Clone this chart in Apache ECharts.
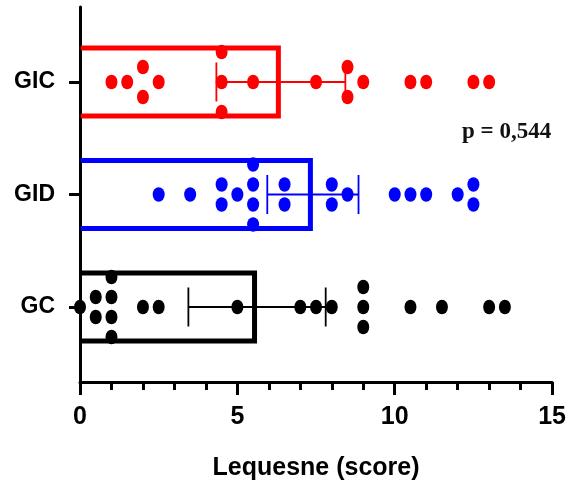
<!DOCTYPE html>
<html>
<head>
<meta charset="utf-8">
<script src="https://cdn.jsdelivr.net/npm/echarts@6/dist/echarts.min.js"></script>
<style>
html, body { margin: 0; padding: 0; background: #fff; }
#main { width: 569px; height: 495px; }
</style>
</head>
<body>
<div id="main"></div>
<script>
// groups, bottom to top
var groups = ['GC', 'GID', 'GIC'];
var colors = ['#000000', '#0000ff', '#ff0000'];

// individual Lequesne scores
var gcScores  = [0, 0.5, 0.5, 1, 1, 1, 1, 2, 2.5, 5, 7, 7.5, 8, 9, 9, 9, 10.5, 11.5, 13, 13.5];
var gidScores = [2.5, 3.5, 4.5, 4.5, 5, 5.5, 5.5, 5.5, 5.5, 6.5, 6.5, 8, 8, 8.5, 10, 10.5, 11, 12, 12.5, 12.5];
var gicScores = [1, 1.5, 2, 2, 2.5, 4.5, 4.5, 4.5, 5.5, 7.5, 8.5, 8.5, 9, 10.5, 11, 12.5, 13];
var allScores = [gcScores, gidScores, gicScores];

var xTicks = [0, 5, 10, 15];
var pText = 'p = 0,544';

// mean and 95% CI (t approx.)
function stats(arr) {
  var n = arr.length, m = 0, v = 0;
  arr.forEach(function (d) { m += d; });
  m /= n;
  arr.forEach(function (d) { v += (d - m) * (d - m); });
  var sd = Math.sqrt(v / (n - 1));
  var df = n - 1, z = 1.959964;
  var t = z + (Math.pow(z, 3) + z) / (4 * df) +
    (5 * Math.pow(z, 5) + 16 * Math.pow(z, 3) + 3 * z) / (96 * df * df);
  return { mean: m, ci: t * sd / Math.sqrt(n) };
}

var rowPos = groups.map(function (g, i) { return 2 + 3 * i; });

// simple beeswarm: equal values spread vertically
function swarm(arr, y) {
  var counts = {}, maxN = 1;
  arr.forEach(function (d) { counts[d] = (counts[d] || 0) + 1; maxN = Math.max(maxN, counts[d]); });
  var step = maxN > 1 ? 1.6 / (maxN - 1) : 0;
  var seen = {};
  return arr.map(function (d) {
    var n = counts[d], k = seen[d] = (seen[d] || 0);
    seen[d]++;
    return [d, y + (k - (n - 1) / 2) * step];
  });
}

var series = [];
allScores.forEach(function (arr, i) {
  var s = stats(arr);
  var col = colors[i];
  series.push({
    type: 'custom', z: 2,
    data: [[s.mean, rowPos[i]]],
    renderItem: function (params, api) {
      var y = api.value(1);
      var x0 = api.coord([0, y]);
      var p = api.coord([api.value(0), y]);
      var h = api.size([0, 1.95])[1];
      var lw = 5;
      var top = p[1] - h / 2 + lw / 2, bot = p[1] + h / 2 - lw / 2, xr = p[0] - lw / 2;
      return {
        type: 'polyline',
        shape: { points: [[x0[0] + 1, top], [xr, top], [xr, bot], [x0[0] + 1, bot]] },
        style: { stroke: col, lineWidth: lw, fill: 'none', lineJoin: 'miter' }
      };
    }
  });
  series.push({
    type: 'custom', z: 3,
    data: [[s.mean - s.ci, s.mean + s.ci, rowPos[i]]],
    encode: { x: [0, 1], y: 2 },
    renderItem: function (params, api) {
      var y = api.value(2);
      var a = api.coord([api.value(0), y]);
      var b = api.coord([api.value(1), y]);
      var ch = api.size([0, 1.04])[1] / 2;
      var st = { stroke: col, lineWidth: 1.8 };
      return {
        type: 'group',
        children: [
          { type: 'line', shape: { x1: a[0], y1: a[1], x2: b[0], y2: b[1] }, style: st },
          { type: 'line', shape: { x1: a[0], y1: a[1] - ch, x2: a[0], y2: a[1] + ch }, style: st },
          { type: 'line', shape: { x1: b[0], y1: b[1] - ch, x2: b[0], y2: b[1] + ch }, style: st }
        ]
      };
    }
  });
  series.push({
    type: 'scatter', z: 4,
    symbol: 'circle',
    symbolSize: [12, 14.5],
    itemStyle: { color: col, opacity: 1 },
    data: swarm(arr, rowPos[i])
  });
});

var chart = echarts.init(document.getElementById('main'));
chart.setOption({
  animation: false,
  grid: { left: 80, right: 16, top: 7, bottom: 113 },
  xAxis: {
    type: 'value',
    min: xTicks[0], max: xTicks[xTicks.length - 1], interval: xTicks[1] - xTicks[0],
    name: 'Lequesne (score)',
    nameLocation: 'middle',
    nameGap: 74,
    nameTextStyle: { color: '#000', fontSize: 25, fontWeight: 'bold', fontFamily: 'Liberation Sans, Arial, sans-serif' },
    axisLine: { lineStyle: { color: '#000', width: 3 } },
    axisTick: { length: 13, lineStyle: { color: '#000', width: 3 } },
    minorTick: { show: true, splitNumber: 5, length: 8, lineStyle: { color: '#000', width: 3 } },
    axisLabel: { color: '#000', fontSize: 25, fontWeight: 'bold', margin: 23, fontFamily: 'Liberation Sans, Arial, sans-serif' },
    splitLine: { show: false },
    minorSplitLine: { show: false }
  },
  yAxis: {
    type: 'value',
    min: 0, max: 10,
    axisLine: { show: true, onZero: false, lineStyle: { color: '#000', width: 3 } },
    axisTick: { show: true, length: 11, customValues: rowPos, lineStyle: { color: '#000', width: 3 } },
    axisLabel: {
      customValues: rowPos,
      color: '#000', fontSize: 23, fontWeight: 'bold', margin: 25,
      fontFamily: 'Liberation Sans, Arial, sans-serif',
      formatter: function (v) { return groups[rowPos.indexOf(v)] || ''; }
    },
    splitLine: { show: false }
  },
  graphic: [{
    type: 'text', left: 462, top: 121,
    style: { text: pText, fill: '#111', font: 'bold 23px "Liberation Serif", "Times New Roman", serif' }
  }],
  series: series
});
</script>
</body>
</html>
